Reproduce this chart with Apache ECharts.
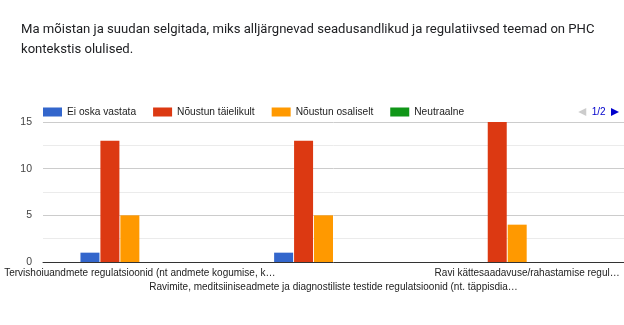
<!DOCTYPE html>
<html>
<head>
<meta charset="utf-8">
<script src="https://cdn.jsdelivr.net/npm/echarts@6/dist/echarts.min.js"></script>
<style>
html,body{margin:0;padding:0;background:#fff;}
#chart{width:624px;height:325px;}
</style>
</head>
<body>
<div id="chart"></div>
<script>
const titleText = 'Ma mõistan ja suudan selgitada, miks alljärgnevad seadusandlikud ja regulatiivsed teemad on PHC\nkontekstis olulised.';
const categories = [
  'Tervishoiuandmete regulatsioonid (nt andmete kogumise, k…',
  'Ravimite, meditsiiniseadmete ja diagnostiliste testide regulatsioonid (nt. täppisdia…',
  'Ravi kättesaadavuse/rahastamise regul…'
];
const seriesNames = ['Ei oska vastata', 'Nõustun täielikult', 'Nõustun osaliselt', 'Neutraalne', 'Pigem ei nõustu', 'Ei nõustu'];
const eiOskaVastata = [1, 1, 0];
const noustunTaielikult = [13, 13, 15];
const noustunOsaliselt = [5, 5, 4];
const neutraalne = [0, 0, 0];
const pigemEiNoustu = [0, 0, 0];
const eiNoustu = [0, 0, 0];
const yTicks = [0, 5, 10, 15];
const colors = ['#3366cc', '#dc3912', '#ff9900', '#109618', '#990099', '#0099c6'];

const seriesData = [eiOskaVastata, noustunTaielikult, noustunOsaliselt, neutraalne, pigemEiNoustu, eiNoustu];

const chart = echarts.init(document.getElementById('chart'), null, {renderer: 'canvas'});
chart.setOption({
  animation: false,
  color: colors,
  title: {
    text: titleText,
    left: 16,
    top: 15,
    textStyle: {fontFamily: 'Roboto', fontSize: 13.1, fontWeight: 'normal', color: '#202124', lineHeight: 20}
  },
  legend: {
    type: 'scroll',
    left: 38,
    right: 0,
    top: 102,
    itemWidth: 19,
    itemHeight: 9,
    itemGap: 17,
    icon: 'rect',
    textStyle: {fontFamily: 'Liberation Sans, Arial', fontSize: 10.2, color: '#222'},
    pageButtonPosition: 'end',
    pageButtonGap: 102,
    pageButtonItemGap: 1,
    pageIconSize: [8, 10],
    pageIcons: {horizontal: ['path://M0,5L10,0L10,10z', 'path://M10,5L0,0L0,10z']},
    pageIconColor: '#0000cc',
    pageIconInactiveColor: '#cccccc',
    pageTextStyle: {color: '#0000cc', fontFamily: 'Liberation Sans, Arial', fontSize: 10},
    pageFormatter: '{current}/{total}',
    data: seriesNames
  },
  grid: {left: 43, right: 0, top: 122, bottom: 63, containLabel: false, outerBoundsMode: 'none'},
  xAxis: {
    type: 'category',
    data: categories,
    axisLine: {show: true, lineStyle: {color: '#333', width: 1}},
    axisTick: {show: false},
    axisLabel: {
      interval: 0,
      hideOverlap: false,
      margin: 4,
      fontFamily: 'Liberation Sans, Arial',
      fontSize: 10,
      color: '#222',
      lineHeight: 14,
      formatter: function (v, i) { return i === 1 ? '\n' + v : v; }
    }
  },
  yAxis: {
    type: 'value',
    min: yTicks[0],
    max: yTicks[yTicks.length - 1],
    interval: 5,
    axisLine: {show: false},
    axisTick: {show: false},
    axisLabel: {margin: 11, fontFamily: 'Liberation Sans, Arial', fontSize: 10.5, color: '#444'},
    splitLine: {lineStyle: {color: '#cccccc'}},
    minorTick: {show: false, splitNumber: 2},
    minorSplitLine: {show: true, lineStyle: {color: '#ebebeb'}}
  },
  series: seriesNames.map((name, i) => ({
    name: name,
    type: 'bar',
    data: seriesData[i],
    barWidth: 19,
    barGap: '5%',
    itemStyle: {color: colors[i]}
  }))
});
</script>
</body>
</html>
